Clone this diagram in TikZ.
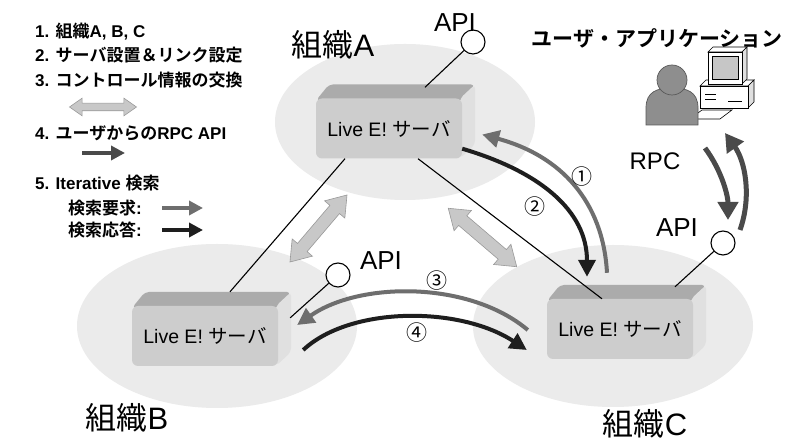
\documentclass[tikz,border=0pt]{standalone}
\usepackage{fontspec}
\setmainfont{Liberation Sans}
\newfontfamily\jp[BoldFont={Noto Sans CJK JP Bold}]{Noto Sans CJK JP}
\usetikzlibrary{arrows.meta,shapes.arrows}

\definecolor{orgfill}{HTML}{EBEBEB}
\definecolor{srvfront}{HTML}{CDCDCD}
\definecolor{srvtop}{HTML}{ABABAB}
\definecolor{srvside}{HTML}{E0E0E0}
\definecolor{reqgray}{HTML}{6E6E6E}
\definecolor{ansblack}{HTML}{1E1E1E}
\definecolor{rpcgray}{HTML}{4A4A4A}
\definecolor{ctlfill}{HTML}{C8C8C8}
\definecolor{ctldraw}{HTML}{999999}
\definecolor{usergray}{HTML}{8E8E8E}

\tikzset{
  org/.style={fill=orgfill},
  server/.style={fill=srvfront, rounded corners=6pt, minimum width=146pt,
    minimum height=60pt, font=\fontsize{19.5}{19.5}\selectfont},
  link/.style={black, line width=1.1pt},
  api/.style={circle, draw=black, line width=1.1pt, fill=white,
    minimum size=24pt, inner sep=0pt},
  apitext/.style={font=\fontsize{26}{26}\selectfont},
  orgname/.style={font=\fontsize{31}{31}\selectfont},
  req/.style={reqgray, line width=4pt, -{Triangle[length=17pt,width=17pt]}},
  ans/.style={ansblack, line width=4pt, -{Triangle[length=17pt,width=17pt]}},
  rpc/.style={rpcgray, line width=5pt, -{Triangle[length=18pt,width=20pt]}},
  ctl/.style={double arrow, fill=ctlfill, draw=ctldraw, line width=0.6pt,
    double arrow head extend=7pt, double arrow tip angle=70, inner sep=6pt},
  num/.style={font=\jp\fontsize{21}{21}\selectfont},
  legend/.style={anchor=west, inner sep=0pt, font=\bfseries\fontsize{17}{17}\selectfont},
  legarrow/.style={line width=3.5pt, -{Triangle[length=14pt,width=14pt]}},
}

\begin{document}
\begin{tikzpicture}[x=1pt, y=1pt]

\useasboundingbox (0,0) rectangle (790,441);
\fill[white] (0,0) rectangle (790,441);

% -------- organisations -----------
\fill[org] (405,319) ellipse (130 and 78);
\fill[org] (217,115) ellipse (140 and 82);
\fill[org] (613,115) ellipse (140 and 81);

\node[orgname] (orgA) at (333,396) {{\jp 組織}A};
\node[orgname] (orgB) at (127,23) {{\jp 組織}B};
\node[orgname] (orgC) at (645,17) {{\jp 組織}C};

% -------- servers -----------
\foreach \s/\p in {A/{389,312.5}, B/{205,105}, C/{620,112}} {
  \begin{scope}[shift={(\p)}]
    \fill[srvtop, rounded corners=4pt] (-73,28) -- (-60,44) -- (86,44) -- (73,28) -- cycle;
    \fill[srvside, rounded corners=4pt] (71,30) -- (86,44) -- (86,-16) -- (71,-30) -- cycle;
    \node[server] (srv\s) at (0,0) {Live E! {\jp サーバ}};
  \end{scope}
}

\draw[link] ([xshift=-44pt]srvA.south) -- ([xshift=25pt,yshift=14pt]srvB.north);
\draw[link] ([xshift=29pt]srvA.south) -- ([xshift=-18pt]srvC.north);

% -------- API -----------
\node[api] (apiA) at (473,399) {};
\node[api] (apiB) at (338,166) {};
\node[api] (apiC) at (723,198) {};
\draw[link] (apiA) -- ([xshift=36pt,yshift=11pt]srvA.north);
\draw[link] (apiB) -- ([xshift=12pt,yshift=-12pt]srvB.north east);
\draw[link] (apiC) -- ([xshift=55pt,yshift=12pt]srvC.north);
\node[apitext] (apiAt) at (455,418) {API};
\node[apitext] (apiBt) at (381,180) {API};
\node[apitext] (apiCt) at (677,213) {API};

% -------- control exchange -----------
\node[ctl, minimum height=88pt, rotate=49.6] (ctlAB) at (318.5,212.5) {};
\node[ctl, minimum height=90pt, rotate=-40.5] (ctlAC) at (482.5,203.5) {};

% -------- iterative search -----------
\draw[req] ([xshift=-13pt,yshift=26pt]srvC.north) .. controls +(-4,72) and +(78,-21) .. ([xshift=20pt,yshift=-6pt]srvA.east);
\draw[ans] ([yshift=10pt]srvA.south east) .. controls +(78,-23) and +(0,66) .. ([xshift=-33pt,yshift=22pt]srvC.north);
\draw[req] ([xshift=-19pt,yshift=-1pt]srvC.west) .. controls +(-58,49) and +(63,44) .. ([xshift=19pt,yshift=11pt]srvB.east);
\draw[ans] ([xshift=25pt,yshift=-14pt]srvB.east) .. controls +(47,44) and +(-67,44) .. ([xshift=-20pt,yshift=-21pt]srvC.west);

\node[num] (n1) at (582,264) {①};
\node[num] (n2) at (535,234) {②};
\node[num] (n3) at (437,160) {③};
\node[num] (n4) at (417,108) {④};

% -------- user application -----------
\node[font=\jp\bfseries\fontsize{21}{21}\selectfont] (usr) at (657,403) {ユーザ・アプリケーション};

% computer
\filldraw[fill=white, draw=black, line width=0.7pt] (700,355) -- (706,361) -- (754,361) -- (748,355) -- cycle;
\filldraw[fill=gray!25, draw=black, line width=0.7pt] (748,333) -- (754,339) -- (754,361) -- (748,355) -- cycle;
\filldraw[fill=white, draw=black, line width=0.7pt] (700,333) rectangle (748,355);
\draw[line width=0.6pt] (705,347) -- (716,347) (705,342) -- (716,342) (728,340) -- (742,340);
\filldraw[fill=white, draw=black, line width=0.7pt] (708,389) -- (713,394) -- (747,394) -- (742,389) -- cycle;
\filldraw[fill=gray!25, draw=black, line width=0.7pt] (742,357) -- (747,362) -- (747,394) -- (742,389) -- cycle;
\filldraw[fill=white, draw=black, line width=0.7pt] (708,357) rectangle (742,389);
\filldraw[fill=gray!45, draw=black, line width=0.6pt] (712,362) rectangle (738,385);
\filldraw[fill=white, draw=black, line width=0.6pt] (690,322) -- (720,322) -- (732,331) -- (702,331) -- cycle;

% person
\filldraw[fill=usergray, draw=black!65, line width=0.7pt] (646,316) -- (646,333)
  .. controls (646,350) and (658,353) .. (672,353)
  .. controls (686,353) and (698,350) .. (698,333) -- (698,316) -- cycle;
\filldraw[fill=usergray, draw=black!65, line width=0.7pt] (672,361) circle (15);

\node[font=\fontsize{24}{24}\selectfont] (rpcl) at (655,280) {RPC};
\coordinate (rpcA) at (705,293);
\coordinate (rpcB) at (728,221);
\coordinate (rpcC) at (740,211);
\coordinate (rpcD) at (725,308);
\draw[rpc] (rpcA) .. controls (722,270) and (728,245) .. (rpcB);
\draw[rpc] (rpcC) .. controls (752,245) and (745,280) .. (rpcD);

% -------- legend -----------
\node[legend] (lg1) at (35,409) {1. {\jp 組織}A, B, C};
\node[legend] (lg2) at (35,386) {2. {\jp サーバ設置＆リンク設定}};
\node[legend] (lg3) at (35,361) {3. {\jp コントロール情報の交換}};
\node[ctl, inner sep=3.5pt, double arrow head extend=5pt, minimum height=67pt] (lgctl) at (103,334) {};
\node[legend] (lg4) at (35,308) {4. {\jp ユーザからの}RPC API};
\draw[legarrow, rpcgray] (82,288) -- (125,288);
\node[legend] (lg5) at (35,258) {5. Iterative {\jp 検索}};
\node[legend] (lg6) at (68,233) {{\jp 検索要求}:};
\node[legend] (lg7) at (68,211) {{\jp 検索応答}:};
\draw[legarrow, reqgray] (162,233) -- (203,233);
\draw[legarrow, ansblack] (162,211) -- (203,211);

\end{tikzpicture}
\end{document}
